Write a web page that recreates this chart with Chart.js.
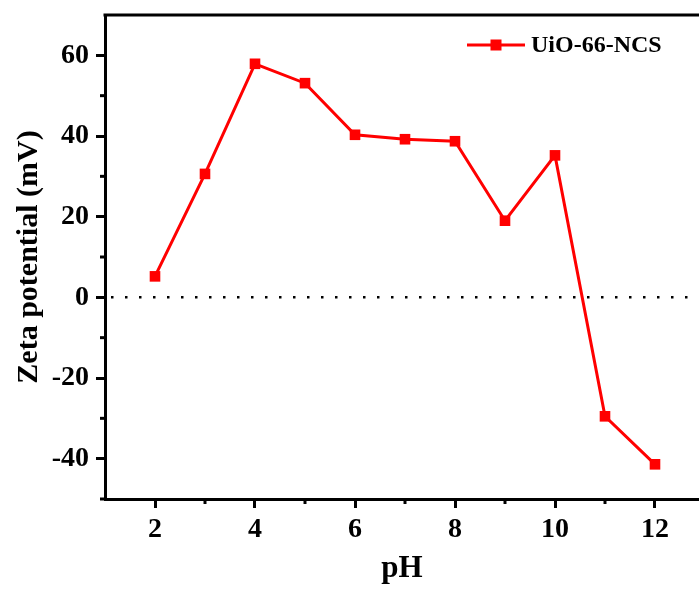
<!DOCTYPE html>
<html>
<head>
<meta charset="utf-8">
<script src="https://cdn.jsdelivr.net/npm/chart.js@4/dist/chart.umd.min.js"></script>
<style>
html,body{margin:0;padding:0;background:#fff;}
#wrap{width:699px;height:589px;position:relative;}
</style>
</head>
<body>
<div id="wrap"><canvas id="c" width="699" height="589"></canvas></div>
<script>
const seriesName = 'UiO-66-NCS';
const pH = [2, 3, 4, 5, 6, 7, 8, 9, 10, 11, 12];
const zeta = [5.2, 30.6, 57.9, 53.1, 40.3, 39.2, 38.7, 19.0, 35.2, -29.5, -41.4];
const xMajorTicks = [2, 4, 6, 8, 10, 12];
const xMinorTicks = [3, 5, 7, 9, 11];
const yMajorTicks = [-40, -20, 0, 20, 40, 60];
const yMinorTicks = [-50, -30, -10, 10, 30, 50];
const xRange = [1, 12.88];
const yRange = [-50, 70];
const zeroLineY = [0, 0];

const FONT = '"Liberation Serif", "Times New Roman", serif';

const extras = {
  id: 'extras',
  afterDraw(chart) {
    const ctx = chart.ctx;
    const a = chart.chartArea;
    const xs = chart.scales.x, ys = chart.scales.y;
    ctx.save();
    // top frame line
    ctx.strokeStyle = '#000';
    ctx.lineWidth = 3;
    ctx.beginPath();
    ctx.moveTo(a.left - 1.5, a.top);
    ctx.lineTo(a.right, a.top);
    ctx.stroke();
    // minor ticks
    ctx.lineWidth = 3;
    xMinorTicks.forEach(v => {
      const px = xs.getPixelForValue(v);
      ctx.beginPath();
      ctx.moveTo(px, a.bottom);
      ctx.lineTo(px, a.bottom + 5);
      ctx.stroke();
    });
    yMinorTicks.forEach(v => {
      const py = ys.getPixelForValue(v);
      ctx.beginPath();
      ctx.moveTo(a.left, py);
      ctx.lineTo(a.left - 5, py);
      ctx.stroke();
    });
    // legend
    const ds = chart.data.datasets[0];
    const ly = a.top + 30;
    const lx0 = 467, lx1 = 525;
    ctx.strokeStyle = ds.borderColor;
    ctx.lineWidth = ds.borderWidth;
    ctx.beginPath();
    ctx.moveTo(lx0, ly);
    ctx.lineTo(lx1, ly);
    ctx.stroke();
    ctx.fillStyle = ds.pointBackgroundColor;
    ctx.fillRect((lx0 + lx1) / 2 - 5.5, ly - 5.5, 11, 11);
    ctx.fillStyle = '#000';
    ctx.font = 'bold 24px ' + FONT;
    ctx.textAlign = 'left';
    ctx.textBaseline = 'middle';
    ctx.fillText(ds.label, 531, ly + 1);
    ctx.restore();
  }
};

new Chart(document.getElementById('c'), {
  type: 'line',
  data: {
    datasets: [
      {
        label: seriesName,
        data: pH.map((x, i) => ({x: x, y: zeta[i]})),
        borderColor: '#ff0000',
        backgroundColor: '#ff0000',
        pointBackgroundColor: '#ff0000',
        pointBorderColor: '#ff0000',
        borderWidth: 3,
        pointStyle: 'rect',
        pointRadius: 7.5,
        pointBorderWidth: 0,
        tension: 0
      },
      {
        label: 'zero',
        data: xRange.map((x, i) => ({x: x, y: zeroLineY[i]})),
        borderColor: '#000',
        borderWidth: 2.5,
        borderDash: [2.5, 11.5],
        borderDashOffset: -6,
        pointRadius: 0,
        tension: 0
      }
    ]
  },
  options: {
    responsive: false,
    animation: false,
    events: [],
    layout: {autoPadding: false, padding: {top: 15, right: 0, left: 0, bottom: 0}},
    plugins: {legend: {display: false}, tooltip: {enabled: false}, title: {display: false}},
    scales: {
      x: {
        type: 'linear',
        min: xRange[0],
        max: xRange[1],
        afterBuildTicks: s => { s.ticks = xMajorTicks.map(v => ({value: v})); },
        afterFit: s => { s.height = 90; s.paddingLeft = 0; s.paddingRight = 0; },
        grid: {drawOnChartArea: false, drawTicks: true, tickLength: 9, tickWidth: 3, tickColor: '#000'},
        border: {display: true, color: '#000', width: 3},
        ticks: {color: '#000', font: {family: FONT, size: 28, weight: 'bold'}, padding: 5, maxRotation: 0, autoSkip: false},
        title: {display: true, text: 'pH', color: '#000', font: {family: FONT, size: 31, weight: 'bold'}, padding: {top: 0, bottom: 1}}
      },
      y: {
        type: 'linear',
        min: yRange[0],
        max: yRange[1],
        afterBuildTicks: s => { s.ticks = yMajorTicks.map(v => ({value: v})); },
        afterFit: s => { s.width = 105; s.paddingTop = 0; s.paddingBottom = 0; },
        grid: {drawOnChartArea: false, drawTicks: true, tickLength: 9, tickWidth: 3, tickColor: '#000'},
        border: {display: true, color: '#000', width: 3},
        ticks: {color: '#000', font: {family: FONT, size: 28, weight: 'bold'}, padding: 7, autoSkip: false},
        title: {display: true, text: 'Zeta potential (mV)', color: '#000', font: {family: FONT, size: 30, weight: 'bold'}, padding: {top: 11, bottom: 0}}
      }
    }
  },
  plugins: [extras]
});
</script>
</body>
</html>
